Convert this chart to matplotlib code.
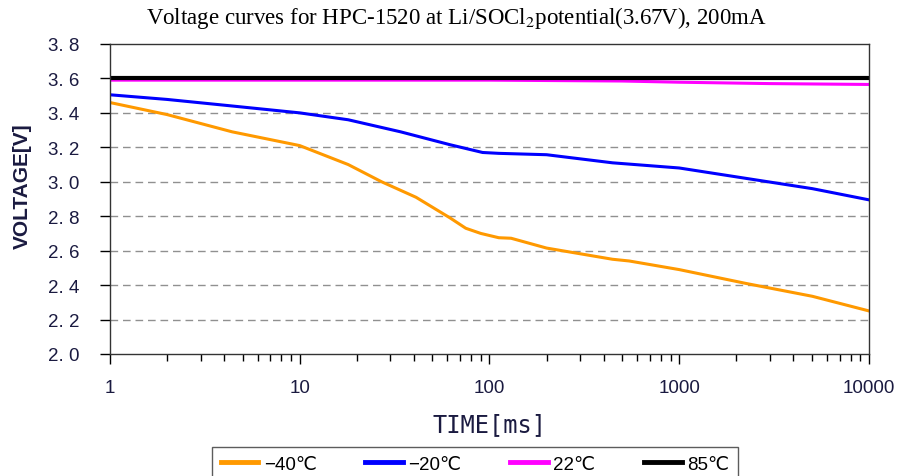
import matplotlib.pyplot as plt
from matplotlib.ticker import FixedLocator, LogLocator, NullFormatter

plt.rcParams['font.family'] = ['Liberation Sans', 'DejaVu Sans']
plt.rcParams['mathtext.fontset'] = 'stix'

# time in ms, voltage in V
t_m40 = [1, 2, 4.4, 10, 18, 27, 41, 62, 75, 90, 112, 130, 200, 445, 545, 1000, 2240, 5030, 10000]
v_m40 = [3.46, 3.39, 3.29, 3.21, 3.10, 3.00, 2.91, 2.79, 2.73, 2.70, 2.675, 2.672, 2.615, 2.55, 2.54, 2.49, 2.41, 2.335, 2.25]

t_m20 = [1, 2, 4.4, 10, 18, 34, 62, 92, 112, 200, 445, 1000, 2240, 5030, 10000]
v_m20 = [3.505, 3.478, 3.44, 3.40, 3.36, 3.29, 3.215, 3.17, 3.165, 3.157, 3.11, 3.08, 3.02, 2.96, 2.895]

t_22 = [1, 100, 500, 1000, 3000, 10000]
v_22 = [3.59, 3.59, 3.585, 3.578, 3.57, 3.565]

t_85 = [1, 10000]
v_85 = [3.60, 3.60]

yticks = [2.0, 2.2, 2.4, 2.6, 2.8, 3.0, 3.2, 3.4, 3.6, 3.8]
xticks = [1, 10, 100, 1000, 10000]

fig = plt.figure(figsize=(9.03, 4.77), dpi=100)
ax = fig.add_axes([0.1218, 0.2558, 0.8405, 0.6499])

ax.plot(t_m40, v_m40, color='#ff9900', lw=2.2, label='\u221240\u2103')
ax.plot(t_m20, v_m20, color='#0000ff', lw=2.2, label='\u221220\u2103')
ax.plot(t_22, v_22, color='#ff00ff', lw=2.2, label='22\u2103')
ax.plot(t_85, v_85, color='black', lw=3, label='85\u2103')

ax.set_xscale('log')
ax.set_xlim(1, 10000)
ax.set_ylim(2.0, 3.8)
ax.xaxis.set_major_locator(FixedLocator(xticks))
ax.set_xticklabels([str(x) for x in xticks])
ax.xaxis.set_minor_locator(LogLocator(base=10, subs=range(2, 10)))
ax.xaxis.set_minor_formatter(NullFormatter())
ax.set_yticks(yticks)
ax.set_yticklabels([f'{y:.1f}'.replace('.', '. ') for y in yticks])

for y in yticks[1:-1]:
    ax.axhline(y, color='#909090', lw=1, ls=(0, (5.5, 3.5)), zorder=0)

ax.tick_params(axis='both', which='major', direction='out', length=7, width=1,
               labelsize=13.5, labelcolor='#1a1a40')
ax.tick_params(axis='x', which='major', pad=11)
ax.tick_params(axis='y', which='major', pad=15)
ax.tick_params(axis='x', which='minor', direction='out', length=5, width=1)
for s in ax.spines.values():
    s.set_color('#333333')
    s.set_linewidth(1)

ax.set_xlabel('TIME[ms]', fontsize=17, color='#1a1a40', family='DejaVu Sans Mono')
ax.xaxis.set_label_coords(0.5, -0.226)
ax.xaxis.label.set_va('center')
ax.set_ylabel('VOLTAGE[V]', fontsize=15, color='#1a1a40', fontweight='bold',
              family=['Liberation Sans Narrow', 'Liberation Sans'])
ax.yaxis.set_label_coords(-0.116, 0.545)
ax.yaxis.label.set_va('center')

fig.suptitle('Voltage curves for HPC-1520 at Li/SOCl$_2$potential(3.67V), 200mA',
             x=0.505, y=0.99, fontsize=16.5, family='Liberation Serif')

leg = ax.legend(loc='upper center', bbox_to_anchor=(0.526, 0.0608), bbox_transform=fig.transFigure,
                ncol=4, frameon=True, fancybox=False, edgecolor='#333333',
                handlelength=2.0, columnspacing=2.6, handletextpad=0.3, borderpad=0.45,
                borderaxespad=0, prop={'family': ['Liberation Sans', 'DejaVu Sans'], 'size': 13.5})
leg.get_frame().set_linewidth(1)
for line in leg.get_lines():
    line.set_linewidth(3.5)

fig.savefig('out.png', dpi=100)
